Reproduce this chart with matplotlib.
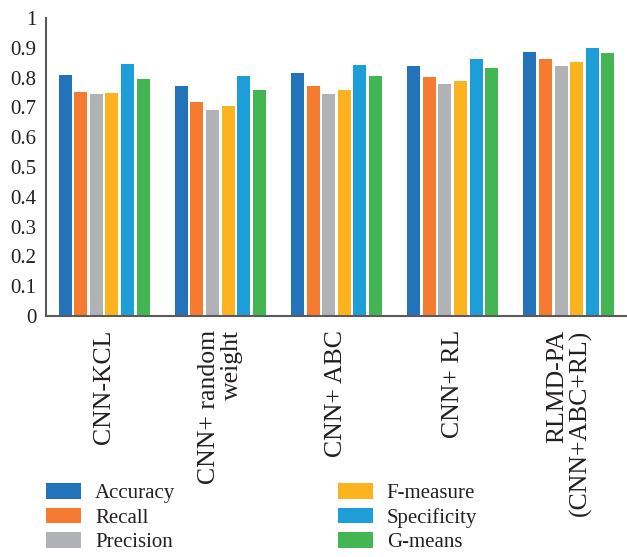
import matplotlib
matplotlib.use("Agg")
import matplotlib.pyplot as plt
import numpy as np

methods = ["CNN-KCL", "CNN+ random\nweight", "CNN+ ABC", "CNN+ RL", "RLMD-PA\n(CNN+ABC+RL)"]
metrics = ["Accuracy", "Recall", "Precision", "F-measure", "Specificity", "G-means"]

accuracy    = [0.809, 0.772, 0.815, 0.839, 0.886]
recall      = [0.752, 0.718, 0.772, 0.802, 0.862]
precision   = [0.745, 0.691, 0.745, 0.779, 0.839]
f_measure   = [0.748, 0.705, 0.758, 0.789, 0.852]
specificity = [0.846, 0.805, 0.842, 0.862, 0.899]
g_means     = [0.795, 0.758, 0.805, 0.832, 0.883]

yticks = [0, 0.1, 0.2, 0.3, 0.4, 0.5, 0.6, 0.7, 0.8, 0.9, 1]
ytick_labels = ["0", "0.1", "0.2", "0.3", "0.4", "0.5", "0.6", "0.7", "0.8", "0.9", "1"]

colors = ["#2373BB", "#F47B30", "#B1B2B5", "#FBB41F", "#1E9ED8", "#43B653"]
series = [accuracy, recall, precision, f_measure, specificity, g_means]

plt.rcParams["font.family"] = ["Liberation Serif", "DejaVu Serif"]
plt.rcParams["font.size"] = 15

fig = plt.figure(figsize=(6.27, 5.57), dpi=100)
ax = fig.add_axes([46 / 627, (557 - 316) / 557, 581 / 627, 298 / 557])

x = np.arange(len(methods))
pitch = 0.134
width = 0.112
handles = []
for i, (vals, col, name) in enumerate(zip(series, colors, metrics)):
    b = ax.bar(x + (i - 2.5) * pitch, vals, width=width, color=col, label=name)
    handles.append(b)

ax.set_xlim(-0.5, 4.5)
ax.set_ylim(0, 1)
ax.set_yticks(yticks)
ax.set_yticklabels(ytick_labels, color="#231F20")
ax.set_xticks(x)
ax.set_xticklabels(methods, rotation=90, ha="center", va="top",
                   multialignment="right", color="#231F20",
                   fontsize=18.5, linespacing=1.05)
ax.tick_params(axis="both", length=0)
ax.tick_params(axis="y", pad=7)
ax.tick_params(axis="x", pad=10)

for side in ("top", "right"):
    ax.spines[side].set_visible(False)
for side in ("left", "bottom"):
    ax.spines[side].set_color("#5A5A5A")
    ax.spines[side].set_linewidth(1.5)

fig.legend(handles=handles, labels=metrics, ncol=2, frameon=False,
           loc="upper left", bbox_to_anchor=(46 / 627, 1 - 483 / 557),
           borderpad=0, borderaxespad=0, handlelength=1.68, handleheight=0.77,
           handletextpad=0.67, labelspacing=0.22, columnspacing=7.8,
           labelcolor="#231F20")

fig.savefig("out.png", dpi=100)
